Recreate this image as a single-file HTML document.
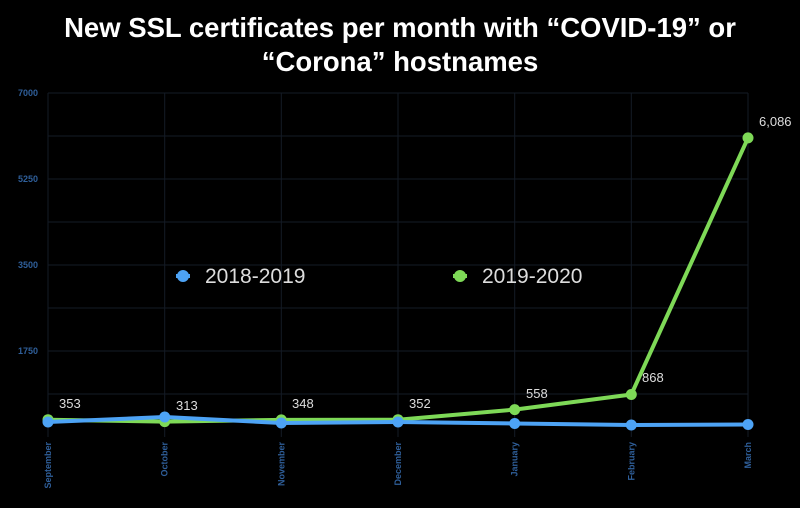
<!DOCTYPE html>
<html><head><style>
body{margin:0;background:#000;width:800px;height:503px;overflow:hidden;font-family:"Liberation Sans",sans-serif}
</style></head><body>
<svg width="800" height="503" xmlns="http://www.w3.org/2000/svg">
<rect width="800" height="503" fill="#000"/>
<text x="400" y="37" fill="#fff" font-size="27.5" font-weight="bold" text-anchor="middle">New SSL certificates per month with “COVID-19” or</text>
<text x="400" y="71" fill="#fff" font-size="27.5" font-weight="bold" text-anchor="middle">“Corona” hostnames</text>
<g stroke="#141b26" stroke-width="1">
<line x1="48" y1="93" x2="748" y2="93"/><line x1="48" y1="136" x2="748" y2="136"/>
<line x1="48" y1="179" x2="748" y2="179"/><line x1="48" y1="222" x2="748" y2="222"/>
<line x1="48" y1="265" x2="748" y2="265"/><line x1="48" y1="308" x2="748" y2="308"/>
<line x1="48" y1="351" x2="748" y2="351"/><line x1="48" y1="394" x2="748" y2="394"/>
<line x1="48" y1="93" x2="48" y2="437"/><line x1="164.7" y1="93" x2="164.7" y2="437"/>
<line x1="281.3" y1="93" x2="281.3" y2="437"/><line x1="398" y1="93" x2="398" y2="437"/>
<line x1="514.7" y1="93" x2="514.7" y2="437"/><line x1="631.3" y1="93" x2="631.3" y2="437"/>
<line x1="748" y1="93" x2="748" y2="437"/>
</g>
<g fill="#2f5f9a" font-size="9" font-weight="bold" text-anchor="end">
<text x="38" y="96">7000</text><text x="38" y="182">5250</text>
<text x="38" y="268">3500</text><text x="38" y="354">1750</text>
</g>
<g fill="#2f5f9a" font-size="9" font-weight="bold" text-anchor="end">
<text transform="translate(51,442) rotate(-90)">September</text>
<text transform="translate(167.7,442) rotate(-90)">October</text>
<text transform="translate(284.3,442) rotate(-90)">November</text>
<text transform="translate(401,442) rotate(-90)">December</text>
<text transform="translate(517.7,442) rotate(-90)">January</text>
<text transform="translate(634.3,442) rotate(-90)">February</text>
<text transform="translate(751,442) rotate(-90)">March</text>
</g>
<polyline fill="none" stroke="#7ed957" stroke-width="4" stroke-linejoin="round" points="48,419.7 164.7,421.6 281.3,419.9 398,419.7 514.7,409.6 631.3,394.5 748,137.9"/>
<g fill="#7ed957">
<circle cx="48" cy="419.7" r="5.5"/><circle cx="164.7" cy="421.6" r="5.5"/><circle cx="281.3" cy="419.9" r="5.5"/>
<circle cx="398" cy="419.7" r="5.5"/><circle cx="514.7" cy="409.6" r="5.5"/><circle cx="631.3" cy="394.5" r="5.5"/><circle cx="748" cy="137.9" r="5.5"/>
</g>
<polyline fill="none" stroke="#4da3f5" stroke-width="4" stroke-linejoin="round" points="48,422 164.7,417 281.3,423 398,422 514.7,423.5 631.3,425 748,424.5"/>
<g fill="#4da3f5">
<circle cx="48" cy="422" r="5.5"/><circle cx="164.7" cy="417" r="5.5"/><circle cx="281.3" cy="423" r="5.5"/>
<circle cx="398" cy="422" r="5.5"/><circle cx="514.7" cy="423.5" r="5.5"/><circle cx="631.3" cy="425" r="5.5"/><circle cx="748" cy="424.5" r="5.5"/>
</g>
<g fill="#ddd" font-size="13">
<text x="59" y="408">353</text><text x="176" y="410">313</text><text x="292" y="408">348</text>
<text x="409" y="408">352</text><text x="526" y="398">558</text><text x="642" y="382">868</text>
<text x="759" y="126">6,086</text>
</g>
<line x1="176" y1="276" x2="190" y2="276" stroke="#4da3f5" stroke-width="4"/>
<circle cx="183" cy="276" r="6" fill="#4da3f5"/>
<text x="205" y="283" fill="#ddd" font-size="21">2018-2019</text>
<line x1="453" y1="276" x2="467" y2="276" stroke="#7ed957" stroke-width="4"/>
<circle cx="460" cy="276" r="6" fill="#7ed957"/>
<text x="482" y="283" fill="#ddd" font-size="21">2019-2020</text>
</svg>
</body></html>
